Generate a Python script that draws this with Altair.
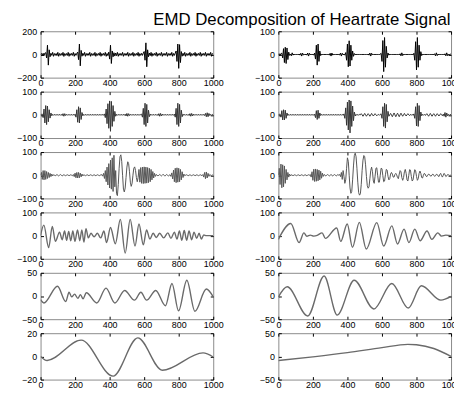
import altair as alt
import pandas as pd

TITLE = "EMD Decomposition of Heartrate Signal"
X_TICKS = [0, 200, 400, 600, 800, 1000]
STEP = 5  # sample spacing of the dense (rows 1-3) signals

# ---------- row 1 ----------
R1L_Y = [
    0, 8, -8, 10, -10, 12, 15, -30, 80, -92, 40, -20, 10, -8, 18, -16, 8, -8, 8, -10,
    18, -16, 8, -8, 9, -8, 18, -17, 8, -8, 8, -9, 18, -16, 8, -8, 9, -8, 18, -16,
    8, -8, 10, 20, -45, 90, -98, 35, -15, 10, -8, 18, -16, 8, -8, 9, -8, 18, -16, 8,
    -8, 8, -9, 18, -16, 8, -8, 9, -8, 18, -16, 8, -8, 9, -8, 18, -16, 8, -10, 20,
    -40, 80, -78, 30, -20, 15, -14, 12, -10, 18, -16, 8, -8, 9, -8, 18, -16, 8, -8, 9,
    -8, 18, -16, 8, -8, 9, -8, 18, -16, 8, -8, 9, -8, 18, -16, 8, -8, 9, -8, 12,
    25, -50, 100, -106, 40, -20, 12, -10, 18, -16, 8, -8, 9, -8, 18, -16, 8, -8, 9, -8,
    18, -16, 8, -8, 9, -8, 18, -16, 8, -8, 9, -8, 18, -16, 8, -8, 12, 30, -60, 90,
    -120, 85, -70, 25, -15, 10, -10, 18, -16, 8, -8, 9, -8, 18, -16, 8, -8, 9, -8, 18,
    -16, 8, -8, 9, -8, 18, -16, 8, -8, 9, -8, 18, -16, 8, -8, 9, -8, 18, -16, 8,
    0]
R1R_Y = [
    0, 3, -3, 4, 5, -15, 25, -35, 31, -39, 28, -22, 10, -4, 2, -6, 7, -3, 2, -2,
    2, -2, 2, -2, 2, -3, 5, -7, 6, -3, 2, -2, 2, -3, 6, -7, 5, -2, 2, -2,
    2, -3, 6, -20, 40, -46, 45, -30, 15, -5, 2, -2, 2, -2, 2, -2, 2, -2, 2, -3,
    5, -7, 6, -3, 2, -2, 2, -2, 2, -2, 2, -3, 6, -7, 5, -2, 2, -3, 8, -25,
    45, -53, 59, -50, 40, -25, 15, -8, 4, -2, 2, -2, 2, -2, 2, -2, 2, -2, 2, -2,
    2, -2, 2, -2, 2, -3, 6, -7, 5, -2, 2, -2, 2, -2, 2, -2, 2, -2, 2, 5,
    -30, 60, -74, 73, -55, 35, -15, 6, -3, 2, -2, 2, -2, 2, -2, 2, -2, 2, -2, 2,
    -2, 3, -6, 7, -5, 2, -2, 2, -2, 2, -2, 2, -2, 2, -2, 2, -2, 5, -25, 55,
    -67, 73, -55, 40, -25, 12, -5, 2, -2, 2, -2, 2, -2, 2, -2, 2, -2, 2, -2, 2,
    -2, 3, -6, 7, -5, 2, -2, 2, -2, 2, -2, 2, -2, 3, -6, 7, -5, 2, -2, 2,
    0]

# ---------- row 2 ----------
R2L_Y = [
    0, 2, 3, -12, 25, -35, 40, -42, 38, -30, 22, -14, 8, -4, 2, -2, 2, -2, 2, -2,
    2, -2, 2, -2, 2, -3, 5, -6, 5, -3, 2, -2, 2, -2, 2, -2, 2, -2, 2, -2,
    3, -10, 22, -32, 35, -35, 30, -20, 10, -4, 2, -2, 2, -2, 2, -2, 2, -2, 2, -2,
    2, -2, 2, -2, 2, -2, 2, -2, 2, -2, 2, -2, 2, -2, 4, -12, 25, -38, 48, -58,
    60, -71, 58, -50, 40, -28, 15, -6, 2, -2, 2, -2, 2, -2, 2, -2, 2, -2, 3, -5,
    6, -6, 5, -3, 2, -2, 2, -2, 2, -2, 2, -2, 2, -2, 2, -2, 2, 3, -10, 28,
    -42, 50, -50, 45, -35, 20, -8, 3, -2, 2, -2, 2, -2, 2, -2, 2, -3, 5, -6, 6,
    -5, 3, -2, 2, -2, 2, -2, 2, -2, 2, -2, 2, -2, 2, -2, 3, -10, 28, -42, 50,
    -50, 45, -35, 20, -8, 3, -2, 2, -2, 2, -2, 2, -3, 5, -6, 6, -5, 3, -2, 2,
    -2, 2, -2, 2, -2, 2, -2, 2, -2, 2, -3, 6, -8, 9, -8, 6, -3, 2, -2, 2,
    0]
R2R_Y = [
    0, 2, 3, -10, 18, -22, 22, -22, 20, -15, 8, -3, 2, -2, 2, -2, 2, -2, 2, -2,
    2, -2, 2, -2, 2, -2, 2, -2, 2, -2, 2, -2, 2, -2, 2, -2, 2, -2, 2, -2,
    2, -2, 3, -12, 18, -20, 20, -15, 8, -3, 2, -2, 2, -2, 2, -2, 2, -2, 2, -2,
    2, -2, 2, -2, 2, -2, 2, -2, 2, -2, 2, -2, 2, -2, 2, -2, 4, -15, 30, -45,
    55, -65, 64, -78, 60, -50, 38, -25, 12, -5, 2, -2, 2, -2, 2, 0, 5, 0, -6, 0,
    6, 0, -6, 0, 5, 0, -6, 0, 6, 0, -5, 0, 5, 0, -4, 0, 2, -2, 2, 4,
    -15, 35, -50, 50, -57, 45, -30, 15, -6, 0, 6, 0, -8, 0, 8, 0, -8, 0, 7, 0,
    -8, 0, 7, 0, -6, 0, 6, 0, -5, 0, 5, 0, -3, 2, -2, 2, -2, 4, -15, 35,
    -48, 50, -50, 40, -25, 12, -4, 2, -2, 2, -2, 0, 5, 0, -6, 0, 6, 0, -6, 0,
    5, 0, -6, 0, 5, 0, -5, 0, 5, 0, -4, 3, -6, 10, -10, 8, -4, 2, -2, 2,
    0]

# ---------- row 3 ----------
R3L_Y = [
    0, 12, -18, 20, -20, 20, -18, 16, -14, 12, -10, 8, -6, 5, -3, 2, 0, -2, 0, 3,
    0, -3, 0, 3, 0, -3, 0, 2, 0, -2, 0, 2, 0, -2, 0, 2, 0, -2, 3, -6,
    9, -11, 12, -12, 12, -11, 9, -7, 5, -3, 2, 0, -2, 0, 2, 0, -2, 0, 2, 0,
    -2, 0, 2, 0, -2, 0, 2, 0, -2, 0, 2, 2, -4, 8, -14, 20, -28, 35, -42, 50,
    -55, 65, -60, 75, -70, 86, -50, 20, -80, -88, -40, 30, 80, 88, 60, 0, -60, -72, -55, -10,
    35, 58, 50, 15, -30, -48, -35, 0, 30, 36, 20, -10, -28, -10, 25, -30, 33, -35, 35, -36,
    36, -35, 35, -34, 33, -32, 30, -28, 25, -20, 16, -12, 8, -5, 3, 0, -3, 0, 3, 0,
    -3, 0, 4, 0, -4, 0, 3, 0, -3, 0, 2, -5, 10, -16, 22, -28, 30, -32, 32, -30,
    30, -28, 25, -20, 15, -10, 5, -2, 0, 2, 0, -2, 0, 2, 0, -2, 0, 2, 0, -2,
    0, 2, 0, -2, 0, 2, 0, -2, 3, -8, 12, -15, 14, -12, 8, -5, 3, 0, -1, 1,
    0]
R3R_Y = [
    0, 30, -40, 48, -54, 45, -50, 40, -35, 25, -20, 12, -8, 5, -3, 2, 0, -2, 0, 2,
    0, -2, 0, 2, 0, -2, 0, 2, 0, -2, 0, 2, 0, -2, 0, 2, 0, 3, -8, 15,
    -22, 26, -27, 27, -26, 25, -24, 22, -20, 17, -13, 9, -5, 3, 0, -3, 0, 3, 0, -3,
    0, 3, 0, -3, 0, 3, 0, -3, 0, 3, 0, 3, -6, 12, -18, 20, -5, -35, -20, 30,
    75, 60, 0, -55, -78, -70, -20, 40, 85, 95, 80, 30, -30, -75, -86, -80, -40, 20, 65, 85,
    80, 45, -5, -45, -56, -50, -15, 20, 35, 15, -25, -35, -5, 30, 32, 0, -30, -30, 0, 30,
    28, -2, -28, -25, 2, 25, 22, -5, -20, -15, 5, 12, 5, -8, -8, 3, 8, 2, -10, -15,
    5, 20, 15, -10, -22, -10, 15, 25, 8, -20, -25, -2, 24, 22, -5, -25, -20, 5, 24, 18,
    -5, -22, -15, 8, 18, 8, -10, -12, 0, 8, 5, -4, -6, 0, 5, 3, -3, -4, 2, 5,
    0, -5, -2, 4, 3, -3, -6, 4, 8, -2, -8, 0, 8, 2, -6, -3, 3, 2, -1, 0,
    0]

# ---------- row 4 (extrema) ----------
R4L_X = [0, 19, 47, 68, 86, 110, 125, 139, 151, 163, 175, 187, 199, 214, 227, 239, 251, 263, 277, 292,
         310, 329, 348, 367, 382, 405, 433, 462, 490, 519, 547, 570, 595, 614, 633, 652, 670, 690, 713, 737,
         755, 775, 790, 804, 818, 832, 846, 860, 875, 889, 904, 918, 931, 945, 960, 1000]
R4L_Y = [0, 45, -52, 40, -25, 15, -18, 20, -20, 18, -22, 20, -25, 25, -22, 25, -28, 30, -10, 10,
         -5, 10, -10, 20, -30, 35, -35, 70, -75, 70, -45, 50, -40, 25, -15, 10, -8, 10, -10, 12,
         -12, 15, -15, 20, -20, 22, -20, 20, -18, 15, -12, 10, -15, 3, 0, 0]
R4R_X = [0, 72, 120, 148, 165, 185, 205, 225, 253, 272, 338, 361, 399, 429, 469, 509, 570, 610, 657, 690,
         728, 756, 790, 821, 861, 889, 923, 945, 970, 1000]
R4R_Y = [-16, 52, -30, 12, -3, 2, -2, 1, 12, -12, 33, -25, 50, -50, 57, -58, 56, -45, 42, -36,
         28, -30, 28, -22, 20, -16, 12, -2, 2, 0]

# ---------- row 5 ----------
R5L_X = [0, 19, 98, 146, 165, 180, 197, 216, 231, 246, 265, 326, 379, 430, 487, 544, 581, 614, 667, 723,
         761, 799, 847, 894, 960, 1000]
R5L_Y = [-8, -15, 21, -12, 8, -2, 4, -5, 3, -6, 7, -15, 17, -15, 12, -9, 8, -9, 12, -21,
         27, -32, 34, -33, 15, -2]
R5R_X = [0, 51, 170, 265, 341, 439, 553, 657, 752, 828, 941, 1000]
R5R_Y = [-2, 20, -43, 43, -41, 34, -28, 27, -26, 22, -9, -1]

# ---------- row 6 ----------
R6L_X = [0, 38, 235, 420, 563, 705, 941, 1000]
R6L_Y = [0, -3.5, 14, -17, 16, -12, 3, -0.5]
R6R_X = [0, 200, 400, 600, 750, 800, 900, 1000]
R6R_Y = [-9, -1, 8, 19, 26, 25, 17, 0]

W, H = 175, 47


def panel(xs, ys, lim, color, width, interp):
    df = pd.DataFrame({"x": xs, "y": ys})
    xs_ = alt.Scale(domain=[0, 1000], nice=False, zero=False)
    ys_ = alt.Scale(domain=[-lim, lim], nice=False, zero=False)
    yt = [-lim, 0, lim]
    common = dict(domain=False, grid=False, offset=-3, tickSize=3, tickColor="black",
                  labelFont="Liberation Sans", labelFontSize=9, labelColor="black", format="d")
    main = alt.Chart(df).mark_line(color=color, strokeWidth=width, interpolate=interp, clip=True).encode(
        x=alt.X("x:Q", scale=xs_, title=None,
                axis=alt.Axis(values=X_TICKS, orient="bottom", labelPadding=1, labelFlush=False,
                              labelOverlap=False, **common)),
        y=alt.Y("y:Q", scale=ys_, title=None,
                axis=alt.Axis(values=yt, orient="left", labelPadding=4, labelOverlap=False, **common)),
    )
    mirror = alt.Chart(df).mark_line(opacity=0).encode(
        x=alt.X("x:Q", scale=xs_, title=None,
                axis=alt.Axis(values=X_TICKS, orient="top", labels=False, **common)),
        y=alt.Y("y:Q", scale=ys_, title=None,
                axis=alt.Axis(values=yt, orient="right", labels=False, **common)),
    )
    return alt.layer(main, mirror).resolve_axis(x="independent", y="independent").properties(
        width=W, height=H)


def grid(ys):
    return [i * STEP for i in range(len(ys))]


GRAY = "#6a6a6a"
panels = [
    panel(grid(R1L_Y), R1L_Y, 200, "#000000", 1, "linear"),
    panel(grid(R1R_Y), R1R_Y, 100, "#000000", 1, "linear"),
    panel(grid(R2L_Y), R2L_Y, 100, "#333333", 1, "linear"),
    panel(grid(R2R_Y), R2R_Y, 100, "#333333", 1, "linear"),
    panel(grid(R3L_Y), R3L_Y, 100, "#555555", 1, "linear"),
    panel(grid(R3R_Y), R3R_Y, 100, "#555555", 1, "linear"),
    panel(R4L_X, R4L_Y, 100, GRAY, 1.4, "monotone"),
    panel(R4R_X, R4R_Y, 100, GRAY, 1.4, "monotone"),
    panel(R5L_X, R5L_Y, 50, GRAY, 1.4, "monotone"),
    panel(R5R_X, R5R_Y, 50, GRAY, 1.4, "monotone"),
    panel(R6L_X, R6L_Y, 20, GRAY, 1.4, "monotone"),
    panel(R6R_X, R6R_Y, 50, GRAY, 1.4, "monotone"),
]

chart = alt.concat(
    *panels, columns=2, bounds="flush",
    spacing=alt.RowColnumber(row=14.2, column=66),
    title=alt.TitleParams(TITLE, font="Liberation Sans", fontSize=17, fontWeight="normal",
                          color="black", anchor="middle", dx=64, offset=-2),
).properties(
    padding={"left": 8, "top": 0, "right": -8, "bottom": -2},
).configure_view(stroke="#8a8a8a", strokeWidth=1)

chart.save("out.html", embed_options={"renderer": "svg", "actions": False})
